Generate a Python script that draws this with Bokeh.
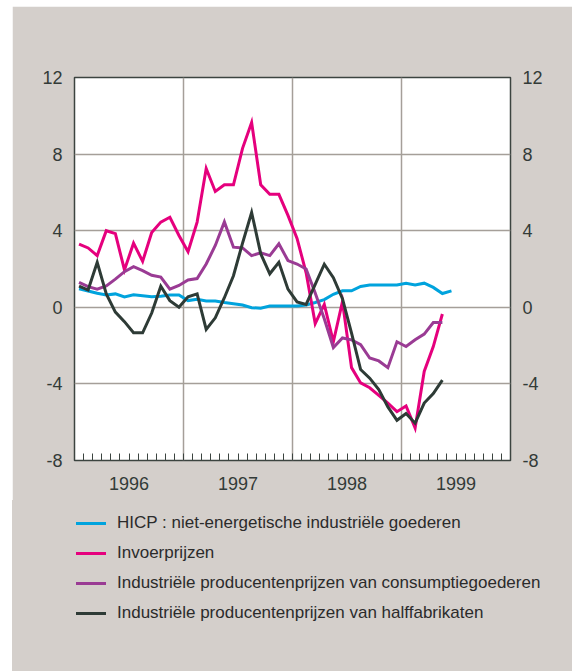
import numpy as np
from bokeh.plotting import figure
from bokeh.layouts import column
from bokeh.models import FixedTicker, LinearAxis, Range1d, Div
from bokeh.embed import file_html
from bokeh.resources import INLINE

# Monthly values, starting January 1996
start_year = 1996
hicp = [0.97, 0.85, 0.73, 0.64, 0.70, 0.54, 0.65, 0.60, 0.55, 0.58, 0.64, 0.64,
        0.35, 0.42, 0.33, 0.33, 0.25, 0.19, 0.12, -0.02, -0.05, 0.07, 0.07, 0.07,
        0.07, 0.12, 0.25, 0.40, 0.68, 0.86, 0.86, 1.09, 1.16, 1.16, 1.16, 1.16,
        1.26, 1.16, 1.26, 1.04, 0.72, 0.86]
invoer = [3.3, 3.1, 2.7, 4.0, 3.85, 1.95, 3.35, 2.4, 3.9, 4.45, 4.7, 3.75,
          2.9, 4.45, 7.25, 6.05, 6.4, 6.4, 8.3, 9.65, 6.4, 5.9, 5.9, 4.8,
          3.6, 1.8, -0.85, 0.15, -1.8, 0.3, -3.15, -3.95, -4.2, -4.6, -5.0, -5.45,
          -5.15, -6.3, -3.35, -2.05, -0.35]
consumptie = [1.3, 1.08, 0.95, 1.12, 1.47, 1.86, 2.12, 1.91, 1.67, 1.58, 0.95, 1.14,
              1.43, 1.5, 2.26, 3.23, 4.46, 3.14, 3.1, 2.7, 2.84, 2.7, 3.32, 2.44,
              2.26, 2.0, 0.75, -0.6, -2.1, -1.6, -1.7, -1.95, -2.65, -2.8, -3.15, -1.8,
              -2.05, -1.7, -1.4, -0.8, -0.8]
halffab = [1.1, 0.9, 2.35, 0.7, -0.25, -0.75, -1.33, -1.33, -0.3, 1.1, 0.35, 0.0,
           0.55, 0.7, -1.15, -0.55, 0.5, 1.65, 3.35, 4.95, 2.8, 1.75, 2.35, 0.95,
           0.28, 0.15, 1.2, 2.25, 1.55, 0.45, -1.35, -3.25, -3.7, -4.3, -5.2, -5.9,
           -5.55, -6.05, -5.0, -4.5, -3.8]

series_names = ["HICP : niet-energetische industriële goederen",
                "Invoerprijzen",
                "Industriële producentenprijzen van consumptiegoederen",
                "Industriële producentenprijzen van halffabrikaten"]
series_colors = ["#00a3dd", "#e5007d", "#9a3b94", "#2e3b36"]
all_series = [hicp, invoer, consumptie, halffab]

year_labels = ["1996", "1997", "1998", "1999"]
y_ticks = [-8, -4, 0, 4, 8, 12]
y_tick_labels = ["-8", "-4", "0", "4", "8", "12"]
y_grid = [-4, 0, 4, 8]


def month_x(vals):
    # mid-month position in decimal years
    return list(start_year + (np.arange(len(vals)) + 0.5) / 12.0)


BG = "#d4cfcb"
TXT = "#333b38"
GRID = "#a59f99"
FONT = "Liberation Sans"

p = figure(width=560, height=494,
           min_border_left=62, min_border_right=62,
           min_border_top=71, min_border_bottom=40,
           x_range=Range1d(1996, 2000), y_range=Range1d(-8, 12),
           output_backend="svg", toolbar_location=None,
           background_fill_color="white", border_fill_color=BG,
           outline_line_color="#3c4440", outline_line_width=1.5,
           margin=0)

# grids
p.xgrid.ticker = FixedTicker(ticks=[1997, 1998, 1999])
p.ygrid.ticker = FixedTicker(ticks=y_grid)
for g in (p.xgrid[0], p.ygrid[0]):
    g.grid_line_color = GRID
    g.grid_line_width = 1.5

# x axis: year labels at mid-year, monthly minor ticks inside
xa = p.xaxis[0]
mid_years = [start_year + i + 0.5 for i in range(len(year_labels))]
month_ticks = [start_year + k / 12.0 for k in range(1, 48)]
xa.ticker = FixedTicker(ticks=mid_years, minor_ticks=month_ticks)
xa.major_label_overrides = {m: lab for m, lab in zip(mid_years, year_labels)}
xa.major_tick_line_color = None
xa.major_tick_in = 0
xa.major_tick_out = 0
xa.minor_tick_in = 7
xa.minor_tick_out = 0
xa.minor_tick_line_color = "#3c4440"
xa.minor_tick_line_width = 1
xa.axis_line_color = None
xa.major_label_standoff = 16
xa.major_label_text_font = FONT
xa.major_label_text_font_size = "18px"
xa.major_label_text_color = TXT

# y axes left and right
ya = p.yaxis[0]
ya2 = LinearAxis()
p.add_layout(ya2, "right")
for a in (ya, ya2):
    a.ticker = FixedTicker(ticks=y_ticks)
    a.major_label_overrides = {t: s for t, s in zip(y_ticks, y_tick_labels)}
    a.major_tick_line_color = None
    a.major_tick_in = 0
    a.major_tick_out = 0
    a.minor_tick_line_color = None
    a.axis_line_color = None
    a.major_label_standoff = 12
    a.major_label_text_font = FONT
    a.major_label_text_font_size = "18px"
    a.major_label_text_color = TXT

for vals, col in zip(all_series, series_colors):
    p.line(month_x(vals), vals, line_color=col, line_width=3, line_join="miter")

# legend under the chart, built from the series names and colours
rows = []
for name, col in zip(series_names, series_colors):
    rows.append(
        '<div style="display:flex;align-items:center;height:20px;margin-bottom:10px;">'
        f'<span style="display:inline-block;width:30px;height:3px;background:{col};margin-right:11px;"></span>'
        f'<span style="font-family:\'{FONT}\';font-size:17px;color:#2b2b2b;white-space:nowrap;">{name}</span>'
        '</div>')
legend_div = Div(text="".join(rows), width=560, height=171, margin=0,
                 styles={"background-color": BG, "padding": "13px 0 0 64px",
                         "box-sizing": "border-box"})

layout = column(p, legend_div, spacing=0, margin=(6, 0, 0, 12))
open("out.html", "w").write(file_html(layout, INLINE))
